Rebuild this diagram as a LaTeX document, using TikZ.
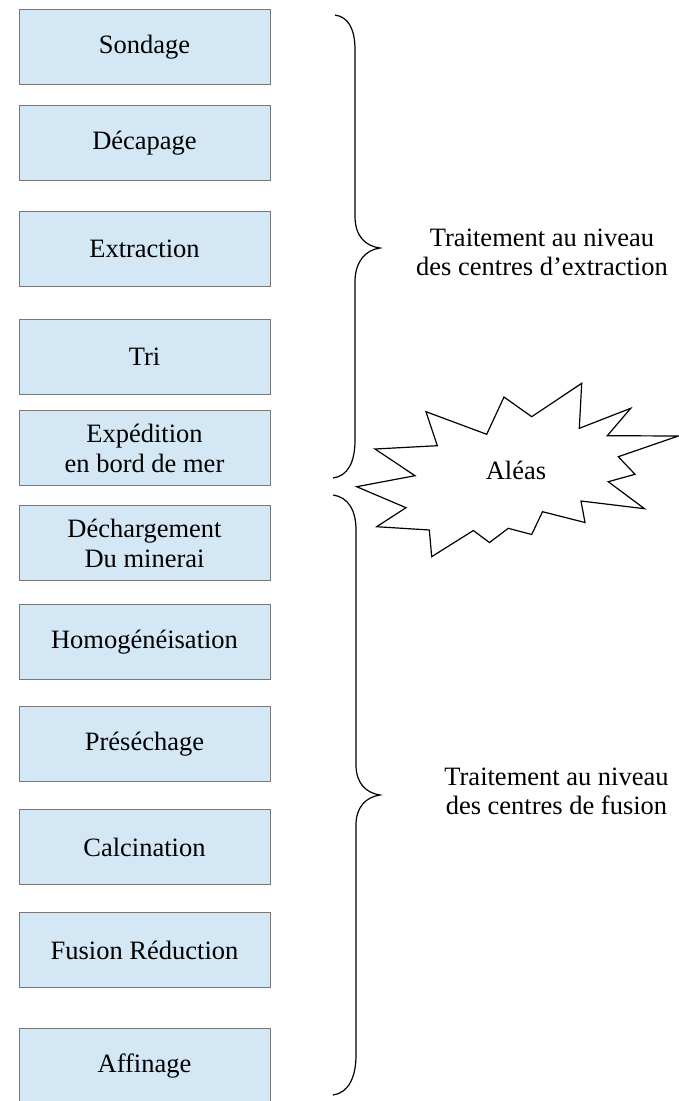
\documentclass[tikz,border=0pt]{standalone}
\usepackage{fontspec}
\setmainfont{Liberation Serif}
\usepackage{tikz}
\definecolor{bleuclair}{RGB}{211,231,245}
\definecolor{grisbord}{RGB}{120,120,120}
\tikzset{
  etape/.style={draw=grisbord, line width=1pt, fill=bleuclair, minimum width=251pt,
    minimum height=75pt, inner sep=0pt, align=center, font=\fontsize{26.5}{30}\selectfont},
  legende/.style={align=center, font=\fontsize{26.5}{29}\selectfont},
  accolade/.style={line width=1.2pt}
}
\begin{document}
\begin{tikzpicture}[x=1pt,y=-1pt]
        \useasboundingbox (0,0) rectangle (679,1101);
        \def\bx{144.5}
        % the steps
        \node[etape] (sondage) at (\bx,47) {Sondage};
        \node[etape] (decapage) at (\bx,143) {Décapage};
        \node[etape] (extraction) at (\bx,249) {Extraction};
        \node[etape] (tri) at (\bx,357) {Tri};
        \node[etape] (expedition) at (\bx,448) {Expédition\\en bord de mer};
        \node[etape] (dechargement) at (\bx,543) {Déchargement\\Du minerai};
        \node[etape] (homog) at (\bx,642) {Homogénéisation};
        \node[etape] (presechage) at (\bx,744) {Préséchage};
        \node[etape] (calcination) at (\bx,847) {Calcination};
        \node[etape] (fusion) at (\bx,950) {Fusion Réduction};
        \node[etape] (affinage) at (\bx,1066) {Affinage};

        % the braces
        \draw[accolade] (335,15) .. controls (349,17) and (355,30) .. (355,50) -- (355,216)
            .. controls (355,236) and (365,246) .. (380,248)
            .. controls (365,250) and (355,262) .. (355,282) -- (355,440)
            .. controls (355,462) and (348,476) .. (333,478);
        \draw[accolade] (333,495) .. controls (348,497) and (356,510) .. (356,530) -- (356,765)
            .. controls (356,783) and (366,793) .. (380,795)
            .. controls (366,797) and (356,807) .. (356,825) -- (356,1055)
            .. controls (356,1078) and (348,1093) .. (333,1095);
        \node[legende] (extr) at (542,252) {Traitement au niveau\\des centres d’extraction};
        \node[legende] (fus) at (556.5,791) {Traitement au niveau\\des centres de fusion};

        % the star
        \draw[accolade, fill=white] (376.7,526.7) -- (429.3,530) -- (431.7,556.7) -- (473.3,530.5)
            -- (489.5,542.5) -- (508.3,528.3) -- (531.7,534.5) -- (542.5,511.7) -- (585,522.5)
            -- (581,501) -- (644.5,508.7) -- (608.3,481.7) -- (635,474.3) -- (618.3,456.7)
            -- (678.3,436) -- (607.3,435.7) -- (630.7,408.3) -- (579.3,428.3) -- (581.7,383.3)
            -- (531.7,416.7) -- (504,397) -- (486.7,434.3) -- (426,411.7) -- (437.3,445.7)
            -- (375,449) -- (415,475.7) -- (356.7,486.7) -- (406,507.7) -- cycle;
        \node[legende] (aleas) at (516,470) {Aléas};
\end{tikzpicture}
\end{document}
